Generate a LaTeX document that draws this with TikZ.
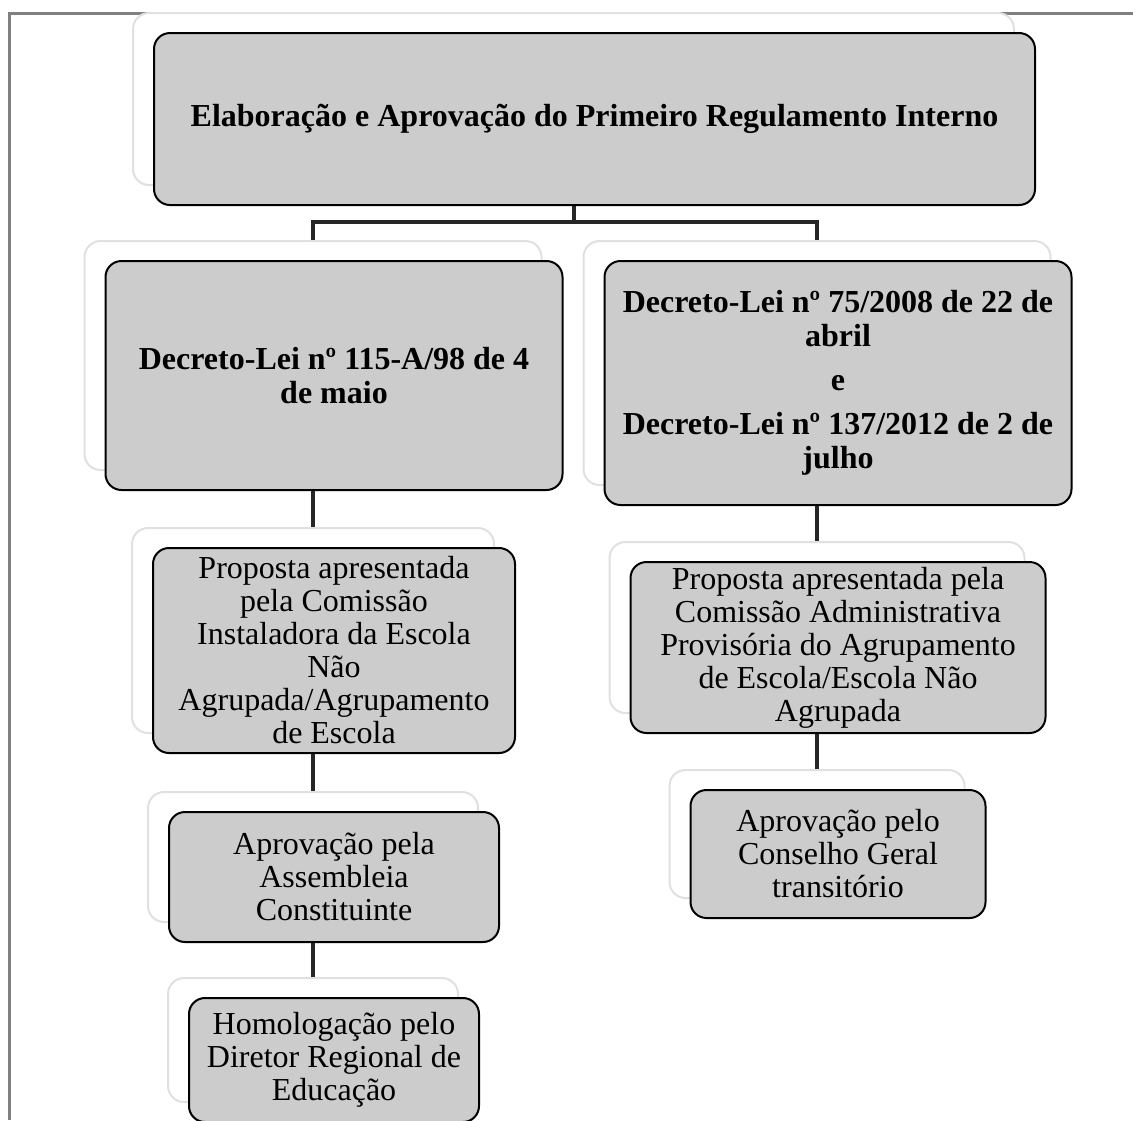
\documentclass[tikz,border=0pt]{standalone}
\usepackage{fontspec}
\setmainfont{Liberation Serif}
\usetikzlibrary{calc}

\tikzset{
    paper/.style={draw=black!12, line width=1pt, fill=white, rounded corners=8pt},
    card/.style={draw=black, line width=1pt, fill=black!20, rounded corners=8pt,
                 align=center, inner sep=0pt, font=\fontsize{16}{16.5}\selectfont},
    cardb/.style={card, font=\fontsize{16}{17}\selectfont\bfseries},
    link/.style={line width=2pt, draw=black!85},
}

\begin{document}
\begin{tikzpicture}[x=0.5pt, y=-0.5pt]
    \useasboundingbox (0,0) rectangle (1133,1120);
    \draw[black!50, line width=1.5pt] (9,1120) -- (9,13) -- (1133,13);

    % sheets behind the cards
    \node[paper, minimum width=440.5pt, minimum height=86pt]  (topb) at (573.5,99) {};
    \node[paper, minimum width=228.5pt, minimum height=114.5pt] (dlb) at (313,355.5) {};
    \node[paper, minimum width=233.5pt, minimum height=122pt] (drb) at (817,363) {};
    \node[paper, minimum width=181pt, minimum height=102.5pt] (plb) at (313,630.5) {};
    \node[paper, minimum width=165pt, minimum height=65pt] (alb) at (313,857) {};
    \node[paper, minimum width=145pt, minimum height=62pt] (hlb) at (313,1040) {};
    \node[paper, minimum width=207.5pt, minimum height=85.5pt] (prb) at (817,627.5) {};
    \node[paper, minimum width=147.5pt, minimum height=64pt] (arb) at (817,834) {};

    % connectors
    \coordinate (fork) at (573.5,222);
    \draw[link] (topb.south) -- (fork);
    \draw[link] (dlb.north) |- (fork) -| (drb.north);
    \draw[link] (dlb.south) -- (plb.north);
    \draw[link] (plb.south) -- (alb.north);
    \draw[link] (alb.south) -- (hlb.north);
    \draw[link] (drb.south) -- (prb.north);
    \draw[link] (prb.south) -- (arb.north);

    % cards
    \node[cardb, minimum width=440.5pt, minimum height=86pt] (top) at ($(topb)+(21,20)$)
        {Elaboração e Aprovação do Primeiro Regulamento Interno};
    \node[cardb, minimum width=228.5pt, minimum height=114.5pt] (dl) at ($(dlb)+(21,20)$)
        {Decreto-Lei nº 115-A/98 de 4\\de maio};
    \node[cardb, minimum width=233.5pt, minimum height=122pt] (dr) at ($(drb)+(21,20)$)
        {Decreto-Lei nº 75/2008 de 22 de\\abril\\[5pt]e\\[5pt]Decreto-Lei nº 137/2012 de 2 de\\julho};
    \node[card, minimum width=181pt, minimum height=102.5pt] (pl) at ($(plb)+(21,20)$)
        {Proposta apresentada\\pela Comissão\\Instaladora da Escola\\Não\\Agrupada/Agrupamento\\de Escola};
    \node[card, minimum width=165pt, minimum height=65pt] (al) at ($(alb)+(21,20)$)
        {Aprovação pela\\Assembleia\\Constituinte};
    \node[card, minimum width=145pt, minimum height=62pt] (hl) at ($(hlb)+(21,20)$)
        {Homologação pelo\\Diretor Regional de\\Educação};
    \node[card, minimum width=207.5pt, minimum height=85.5pt] (pr) at ($(prb)+(21,20)$)
        {Proposta apresentada pela\\Comissão Administrativa\\Provisória do Agrupamento\\de Escola/Escola Não\\Agrupada};
    \node[card, minimum width=147.5pt, minimum height=64pt] (ar) at ($(arb)+(21,20)$)
        {Aprovação pelo\\Conselho Geral\\transitório};
\end{tikzpicture}
\end{document}
